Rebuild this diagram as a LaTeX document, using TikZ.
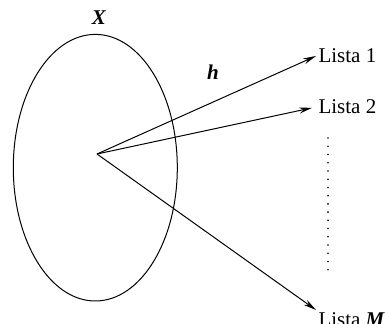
\documentclass[tikz,border=0pt]{standalone}
\usepackage{fontspec}
\setmainfont{Liberation Serif}
\usepackage{tikz}
\usetikzlibrary{arrows.meta}

\tikzset{
  lbl/.style={inner sep=1pt, font=\fontsize{10.5}{12}\selectfont},
  arr/.style={-{Stealth[length=6.5pt,width=3pt]}, line width=0.5pt},
}

\begin{document}
\begin{tikzpicture}[x=0.5pt,y=-0.5pt,line width=0.5pt]
  \useasboundingbox (0,0) rectangle (385,324);
  \draw (95.3,167.7) ellipse (82 and 133.3);
  \coordinate (o) at (97,154);
  \node[lbl,anchor=base] (X) at (99,25) {\textbf{\textit{X}}};
  \node[lbl,anchor=base] (h) at (213,80) {\textbf{\textit{h}}};
  \node[lbl,anchor=west] (l1) at (316,56) {Lista 1};
  \node[lbl,anchor=west] (l2) at (316,107) {Lista 2};
  \node[lbl,anchor=north west] (lM) at (316,310) {Lista \textbf{\textit{M}}};
  \draw[arr](o)--(l1.west);
  \draw[arr,shorten >=2pt](o)--(l2.west);
  \draw[arr](o)--(lM.north west);
  \draw[line cap=round,line width=0.9pt,dash pattern=on 0pt off 4.118pt](328,138)--(328,278);
\end{tikzpicture}
\end{document}
